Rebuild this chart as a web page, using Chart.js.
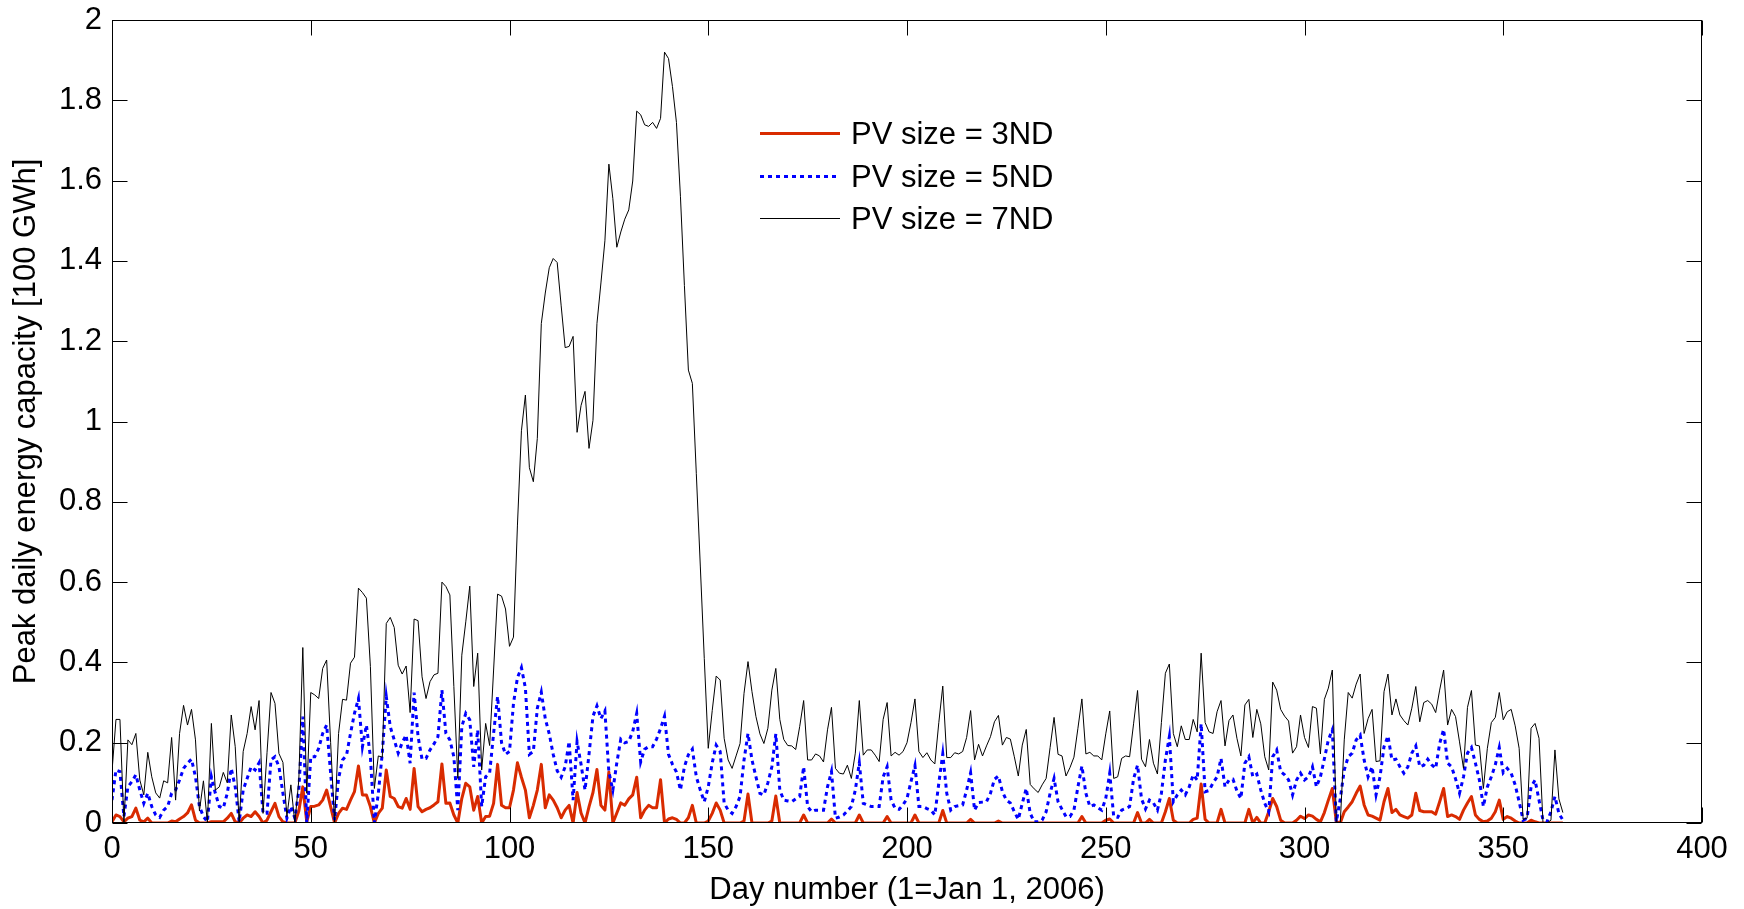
<!DOCTYPE html>
<html>
<head>
<meta charset="utf-8">
<title>Peak daily energy capacity</title>
<script src="https://cdn.jsdelivr.net/npm/chart.js@4.4.1/dist/chart.umd.min.js"></script>
<style>
  html, body { margin: 0; padding: 0; background: #fff; overflow: hidden; }
  #chart { display: block; }
</style>
</head>
<body>
<canvas id="chart" width="1744" height="909"></canvas>
<script>
// Axis ticks
const X_TICKS = [0, 50, 100, 150, 200, 250, 300, 350, 400];
const Y_TICKS = [0, 0.2, 0.4, 0.6, 0.8, 1, 1.2, 1.4, 1.6, 1.8, 2];

const SERIES_LABELS = ['PV size = 3ND', 'PV size = 5ND', 'PV size = 7ND'];

// one sample per day, day 0 .. 365
const dayNumbers = Array.from({ length: 366 }, (_, i) => i);

// Peak daily energy capacity [100 GWh] (10 days per row)
const pv3ND = [
  0.003, 0.02, 0.016, 0.003, 0.012, 0.016, 0.037, 0.007, 0.003, 0.012,
  0, 0, 0, 0, 0, 0.005, 0.003, 0.01, 0.016, 0.025,
  0.045, 0.007, 0, 0, 0, 0.003, 0.003, 0.003, 0.003, 0.012,
  0.024, 0.003, 0, 0.012, 0.02, 0.016, 0.028, 0.016, 0, 0.007,
  0.028, 0.049, 0.016, 0.003, 0, 0, 0, 0.03, 0.09, 0.003,
  0.041, 0.042, 0.045, 0.057, 0.082, 0.041, 0, 0.024, 0.037, 0.034,
  0.057, 0.078, 0.142, 0.07, 0.07, 0.041, 0, 0.024, 0.037, 0.132,
  0.066, 0.061, 0.041, 0.037, 0.061, 0.034, 0.136, 0.041, 0.028, 0.034,
  0.038, 0.045, 0.053, 0.147, 0.049, 0.05, 0.02, 0, 0.061, 0.099,
  0.09, 0.032, 0.066, 0, 0.016, 0.017, 0.049, 0.146, 0.044, 0.038,
  0.038, 0.082, 0.15, 0.114, 0.082, 0.013, 0.044, 0.082, 0.146, 0.038,
  0.07, 0.057, 0.038, 0.013, 0.032, 0.044, 0, 0.076, 0.025, 0,
  0.04, 0.076, 0.133, 0.044, 0.032, 0.127, 0, 0.025, 0.05, 0.044,
  0.06, 0.07, 0.114, 0.013, 0.032, 0.044, 0.038, 0.038, 0.108, 0,
  0.01, 0.013, 0.009, 0, 0, 0.013, 0.044, 0, 0, 0,
  0.005, 0.024, 0.05, 0.032, 0, 0, 0, 0, 0, 0.005,
  0.072, 0, 0, 0, 0, 0, 0.005, 0.067, 0, 0,
  0, 0, 0, 0, 0.02, 0, 0, 0, 0, 0,
  0, 0.01, 0, 0, 0, 0, 0, 0, 0.02, 0,
  0, 0, 0, 0, 0, 0.016, 0, 0, 0, 0,
  0, 0, 0.02, 0, 0, 0, 0, 0, 0, 0.031,
  0, 0, 0, 0, 0, 0, 0.009, 0, 0, 0,
  0, 0, 0, 0.005, 0, 0, 0, 0, 0, 0,
  0, 0, 0, 0, 0, 0, 0, 0, 0, 0,
  0, 0, 0, 0, 0.016, 0, 0, 0, 0, 0,
  0.007, 0.01, 0, 0, 0, 0, 0, 0, 0.026, 0,
  0, 0.009, 0, 0, 0, 0.028, 0.061, 0.007, 0, 0,
  0, 0, 0.009, 0.012, 0.097, 0.009, 0, 0, 0, 0.034,
  0, 0, 0, 0, 0, 0, 0.034, 0, 0.014, 0,
  0, 0.028, 0.061, 0.041, 0.007, 0, 0, 0, 0.007, 0.017,
  0.011, 0.02, 0.017, 0.009, 0.003, 0.026, 0.057, 0.086, 0.003, 0,
  0.028, 0.04, 0.053, 0.074, 0.092, 0.045, 0.02, 0.017, 0.012, 0.007,
  0.053, 0.086, 0.026, 0.034, 0.02, 0.016, 0.012, 0.02, 0.074, 0.031,
  0.028, 0.028, 0.028, 0.022, 0.053, 0.086, 0.016, 0.02, 0.016, 0.009,
  0.032, 0.05, 0.066, 0.02, 0.009, 0.003, 0.005, 0.012, 0.028, 0.057,
  0.009, 0.016, 0.012, 0.005, 0, 0, 0, 0.007, 0.003, 0,
  0, 0, 0, 0, 0, 0
];

const pv5ND = [
  0.057, 0.132, 0.128, 0.016, 0.09, 0.103, 0.12, 0.082, 0.049, 0.074,
  0.041, 0.02, 0.014, 0.032, 0.041, 0.074, 0.082, 0.107, 0.136, 0.149,
  0.159, 0.115, 0.041, 0.016, 0.003, 0.115, 0.074, 0.041, 0.037, 0.074,
  0.136, 0.09, 0.003, 0.082, 0.111, 0.14, 0.132, 0.15, 0.024, 0.024,
  0.157, 0.165, 0.14, 0.074, 0.012, 0.041, 0.012, 0.082, 0.265, 0,
  0.165, 0.165, 0.186, 0.223, 0.244, 0.124, 0.007, 0.111, 0.157, 0.169,
  0.223, 0.273, 0.31, 0.19, 0.244, 0.165, 0, 0.074, 0.174, 0.315,
  0.24, 0.207, 0.174, 0.2, 0.219, 0.149, 0.325, 0.215, 0.159, 0.161,
  0.182, 0.197, 0.215, 0.331, 0.223, 0.207, 0.165, 0.032, 0.24, 0.273,
  0.257, 0.14, 0.232, 0.041, 0.115, 0.124, 0.223, 0.315, 0.2, 0.171,
  0.178, 0.298, 0.362, 0.387, 0.336, 0.171, 0.178, 0.286, 0.326, 0.26,
  0.222, 0.171, 0.13, 0.114, 0.14, 0.203, 0.057, 0.203, 0.146, 0.082,
  0.171, 0.266, 0.292, 0.26, 0.279, 0.127, 0.082, 0.15, 0.209, 0.2,
  0.203, 0.228, 0.273, 0.152, 0.184, 0.19, 0.19, 0.209, 0.235, 0.266,
  0.171, 0.146, 0.127, 0.082, 0.14, 0.17, 0.184, 0.115, 0.082, 0.053,
  0.09, 0.15, 0.194, 0.178, 0.05, 0.032, 0.024, 0.041, 0.066, 0.157,
  0.223, 0.157, 0.115, 0.074, 0.07, 0.1, 0.14, 0.222, 0.082, 0.057,
  0.055, 0.053, 0.06, 0.066, 0.14, 0.041, 0.028, 0.032, 0.032, 0.032,
  0.09, 0.128, 0.012, 0.015, 0.02, 0.03, 0.041, 0.082, 0.15, 0.049,
  0.045, 0.041, 0.041, 0.041, 0.115, 0.14, 0.057, 0.037, 0.034, 0.045,
  0.061, 0.103, 0.143, 0.041, 0.041, 0.036, 0.032, 0.02, 0.099, 0.172,
  0.074, 0.032, 0.041, 0.043, 0.045, 0.082, 0.125, 0.032, 0.051, 0.052,
  0.053, 0.074, 0.109, 0.117, 0.078, 0.057, 0.05, 0.028, 0.009, 0.049,
  0.086, 0.024, 0.003, 0.003, 0.007, 0.028, 0.074, 0.111, 0.053, 0.034,
  0.016, 0.016, 0.032, 0.09, 0.142, 0.074, 0.041, 0.045, 0.038, 0.032,
  0.061, 0.124, 0.016, 0.014, 0.032, 0.036, 0.041, 0.11, 0.144, 0.06,
  0.035, 0.057, 0.05, 0.032, 0.074, 0.157, 0.215, 0.053, 0.07, 0.082,
  0.07, 0.09, 0.12, 0.107, 0.247, 0.078, 0.081, 0.1, 0.115, 0.161,
  0.09, 0.107, 0.109, 0.08, 0.061, 0.149, 0.165, 0.115, 0.122, 0.082,
  0.049, 0.028, 0.165, 0.182, 0.128, 0.12, 0.107, 0.07, 0.107, 0.124,
  0.107, 0.115, 0.14, 0.09, 0.115, 0.16, 0.207, 0.232, 0.003, 0.06,
  0.132, 0.165, 0.174, 0.207, 0.219, 0.157, 0.115, 0.14, 0.07, 0.115,
  0.19, 0.217, 0.157, 0.159, 0.14, 0.124, 0.14, 0.174, 0.192, 0.14,
  0.144, 0.159, 0.145, 0.136, 0.198, 0.233, 0.149, 0.14, 0.11, 0.074,
  0.115, 0.174, 0.188, 0.149, 0.107, 0.041, 0.09, 0.115, 0.145, 0.188,
  0.125, 0.136, 0.124, 0.095, 0.053, 0.007, 0.012, 0.09, 0.107, 0.057,
  0.007, 0.003, 0.028, 0.066, 0.024, 0.007
];

const pv7ND = [
  0.128, 0.258, 0.258, 0, 0.207, 0.195, 0.223, 0.107, 0.07, 0.176,
  0.115, 0.075, 0.062, 0.105, 0.1, 0.213, 0.057, 0.223, 0.293, 0.244,
  0.283, 0.207, 0.03, 0.105, 0, 0.248, 0.082, 0.09, 0.126, 0.1,
  0.269, 0.19, 0, 0.178, 0.223, 0.29, 0.232, 0.305, 0.024, 0.175,
  0.325, 0.298, 0.173, 0.151, 0.016, 0.095, 0, 0.107, 0.437, 0.074,
  0.325, 0.319, 0.31, 0.385, 0.406, 0.2, 0, 0.223, 0.308, 0.306,
  0.398, 0.413, 0.585, 0.574, 0.56, 0.39, 0.086, 0.167, 0.164, 0.497,
  0.512, 0.487, 0.393, 0.371, 0.391, 0.275, 0.508, 0.504, 0.364, 0.31,
  0.352, 0.369, 0.373, 0.6, 0.589, 0.568, 0.34, 0.111, 0.418, 0.501,
  0.59, 0.34, 0.423, 0.132, 0.248, 0.193, 0.381, 0.57, 0.565, 0.533,
  0.44, 0.463, 0.742, 0.977, 1.066, 0.885, 0.85, 0.958, 1.244, 1.32,
  1.383, 1.406, 1.396, 1.288, 1.184, 1.187, 1.212, 0.973, 1.04, 1.075,
  0.933, 1.003, 1.244, 1.345, 1.45, 1.641, 1.555, 1.434, 1.472, 1.504,
  1.527, 1.599, 1.773, 1.764, 1.739, 1.735, 1.745, 1.73, 1.755, 1.92,
  1.904, 1.834, 1.745, 1.561, 1.339, 1.128, 1.095, 0.87, 0.64, 0.41,
  0.186, 0.28, 0.366, 0.356, 0.211, 0.157, 0.136, 0.167, 0.198, 0.323,
  0.402, 0.327, 0.265, 0.222, 0.198, 0.236, 0.331, 0.385, 0.258, 0.208,
  0.193, 0.192, 0.183, 0.24, 0.305, 0.157, 0.157, 0.172, 0.167, 0.152,
  0.232, 0.288, 0.136, 0.124, 0.122, 0.144, 0.111, 0.174, 0.305, 0.169,
  0.182, 0.182, 0.169, 0.153, 0.258, 0.3, 0.167, 0.176, 0.169, 0.178,
  0.2, 0.25, 0.309, 0.178, 0.163, 0.175, 0.157, 0.147, 0.25, 0.341,
  0.163, 0.163, 0.175, 0.172, 0.178, 0.213, 0.28, 0.157, 0.196, 0.167,
  0.192, 0.215, 0.252, 0.268, 0.194, 0.213, 0.209, 0.165, 0.117, 0.194,
  0.233, 0.096, 0.085, 0.076, 0.095, 0.111, 0.188, 0.263, 0.171, 0.167,
  0.117, 0.138, 0.164, 0.236, 0.309, 0.172, 0.176, 0.167, 0.167, 0.157,
  0.222, 0.279, 0.111, 0.115, 0.161, 0.167, 0.165, 0.247, 0.33, 0.159,
  0.14, 0.208, 0.149, 0.122, 0.25, 0.373, 0.396, 0.223, 0.19, 0.242,
  0.208, 0.208, 0.258, 0.227, 0.423, 0.25, 0.227, 0.223, 0.277, 0.305,
  0.192, 0.255, 0.269, 0.211, 0.167, 0.294, 0.308, 0.213, 0.283, 0.247,
  0.165, 0.132, 0.351, 0.331, 0.283, 0.266, 0.254, 0.174, 0.19, 0.269,
  0.213, 0.188, 0.29, 0.286, 0.172, 0.308, 0.336, 0.381, 0.003, 0,
  0.207, 0.325, 0.311, 0.346, 0.371, 0.223, 0.26, 0.283, 0.153, 0.155,
  0.327, 0.371, 0.269, 0.309, 0.269, 0.255, 0.244, 0.286, 0.34, 0.252,
  0.3, 0.305, 0.296, 0.275, 0.331, 0.381, 0.244, 0.283, 0.265, 0.202,
  0.136, 0.288, 0.33, 0.194, 0.192, 0.086, 0.186, 0.25, 0.263, 0.325,
  0.257, 0.277, 0.283, 0.242, 0.186, 0.009, 0.012, 0.236, 0.248, 0.211,
  0, 0, 0.007, 0.182, 0.06, 0.026
];

const FONT_FAMILY = "'Liberation Sans', Arial, Helvetica, sans-serif";
const FONT_SIZE = 31;
const TICK_LEN = 15;

/**
 * MATLAB style box: frame round the plot area and inward ticks on all four sides
 */
const matlabAxesPlugin = {
  id: 'matlabAxes',
  afterDatasetsDraw(chart) {
    const { ctx, chartArea: a, scales: { x, y } } = chart;
    const left = Math.round(a.left) + 0.5;
    const right = Math.round(a.right) - 0.5;
    const top = Math.round(a.top) + 0.5;
    const bottom = Math.round(a.bottom) - 0.5;

    ctx.save();
    ctx.strokeStyle = '#000';
    ctx.lineWidth = 1;
    ctx.beginPath();
    x.ticks.forEach(t => {
      const px = Math.round(x.getPixelForValue(t.value)) + 0.5;
      ctx.moveTo(px, bottom);
      ctx.lineTo(px, bottom - TICK_LEN);
      ctx.moveTo(px, top);
      ctx.lineTo(px, top + TICK_LEN);
    });
    y.ticks.forEach(t => {
      const py = Math.round(y.getPixelForValue(t.value)) + 0.5;
      ctx.moveTo(left, py);
      ctx.lineTo(left + TICK_LEN, py);
      ctx.moveTo(right, py);
      ctx.lineTo(right - TICK_LEN, py);
    });
    ctx.stroke();
    ctx.strokeRect(left, top, right - left, bottom - top);
    ctx.restore();
  }
};

/**
 * Legend without a box, placed inside the plot like the MATLAB figure
 */
const inlineLegendPlugin = {
  id: 'inlineLegend',
  afterDraw(chart) {
    const { ctx, chartArea: a } = chart;
    const x0 = a.left + 648;
    const x1 = a.left + 728;
    const textX = a.left + 739;
    const firstRow = a.top + 113;
    const rowGap = 42.7;

    chart.data.datasets.forEach((ds, i) => {
      const yy = Math.round(firstRow + i * rowGap) + 0.5;
      ctx.save();
      ctx.strokeStyle = ds.borderColor;
      ctx.lineWidth = ds.borderWidth;
      ctx.setLineDash(ds.borderDash || []);
      ctx.beginPath();
      ctx.moveTo(x0, yy);
      ctx.lineTo(x1, yy);
      ctx.stroke();
      ctx.setLineDash([]);
      ctx.fillStyle = '#000';
      ctx.font = FONT_SIZE + 'px ' + FONT_FAMILY;
      ctx.textBaseline = 'middle';
      ctx.textAlign = 'left';
      ctx.fillText(ds.label, textX, yy + 2);
      ctx.restore();
    });
  }
};

const axisFont = { family: FONT_FAMILY, size: FONT_SIZE, lineHeight: 1.2 };

new Chart(document.getElementById('chart'), {
  type: 'line',
  data: {
    labels: dayNumbers,
    datasets: [
      {
        label: SERIES_LABELS[0],
        data: pv3ND,
        borderColor: '#D92B00',
        borderWidth: 3,
        borderJoinStyle: 'round',
        order: 3
      },
      {
        label: SERIES_LABELS[1],
        data: pv5ND,
        borderColor: '#0000FF',
        borderWidth: 3,
        borderDash: [4, 4],
        order: 2
      },
      {
        label: SERIES_LABELS[2],
        data: pv7ND,
        borderColor: '#000000',
        borderWidth: 1,
        order: 1
      }
    ]
  },
  options: {
    responsive: false,
    animation: false,
    devicePixelRatio: 1,
    layout: { padding: { left: 0, top: 20, right: 42, bottom: 0 } },
    elements: {
      point: { radius: 0, hoverRadius: 0 },
      line: { tension: 0, fill: false, borderCapStyle: 'butt' }
    },
    plugins: {
      legend: { display: false },
      tooltip: { enabled: false }
    },
    scales: {
      x: {
        type: 'linear',
        min: 0,
        max: 400,
        afterBuildTicks: scale => { scale.ticks = X_TICKS.map(v => ({ value: v })); },
        afterFit: scale => {
          scale.height = 86;
          scale.paddingLeft = 0;
          scale.paddingRight = 0;
        },
        grid: { display: false, drawTicks: false },
        border: { display: false },
        ticks: {
          color: '#000',
          font: axisFont,
          padding: 8,
          maxRotation: 0,
          autoSkip: false,
          callback: v => String(v)
        },
        title: {
          display: true,
          text: 'Day number (1=Jan 1, 2006)',
          color: '#000',
          font: axisFont,
          padding: { top: 0, bottom: 0 }
        }
      },
      y: {
        type: 'linear',
        min: 0,
        max: 2,
        afterBuildTicks: scale => { scale.ticks = Y_TICKS.map(v => ({ value: v })); },
        afterFit: scale => {
          scale.width = 112;
          scale.paddingTop = 0;
          scale.paddingBottom = 0;
        },
        grid: { display: false, drawTicks: false },
        border: { display: false },
        ticks: {
          color: '#000',
          font: axisFont,
          padding: 10,
          autoSkip: false,
          callback: v => String(Math.round(v * 10) / 10)
        },
        title: {
          display: true,
          text: 'Peak daily energy capacity [100 GWh]',
          color: '#000',
          font: axisFont,
          padding: { top: 8, bottom: 0 }
        }
      }
    }
  },
  plugins: [matlabAxesPlugin, inlineLegendPlugin]
});
</script>
</body>
</html>
